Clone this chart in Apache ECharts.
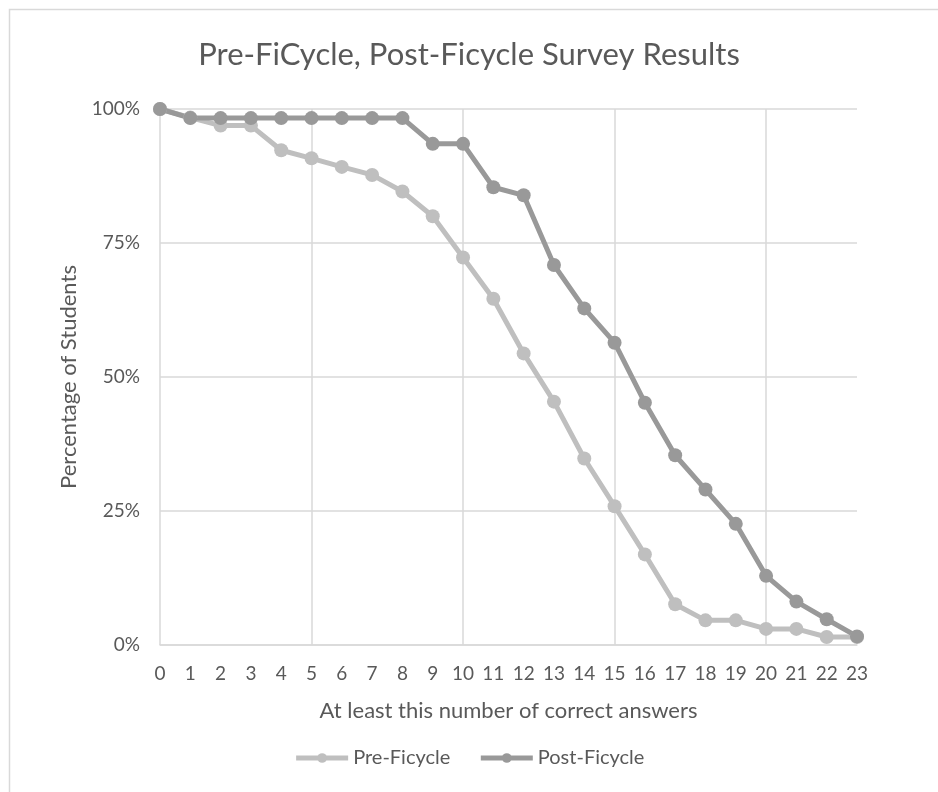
<!DOCTYPE html>
<html>
<head>
<meta charset="utf-8">
<script src="https://cdn.jsdelivr.net/npm/echarts@6/dist/echarts.min.js"></script>
<style>
  html, body { margin: 0; padding: 0; background: #fff; }
  #chart { width: 938px; height: 792px; }
</style>
</head>
<body>
<div id="chart"></div>
<script>
// Chart data
const answers = ['0','1','2','3','4','5','6','7','8','9','10','11','12','13','14','15','16','17','18','19','20','21','22','23'];
const preFicycle = [100, 98.4, 96.9, 96.9, 92.3, 90.8, 89.2, 87.7, 84.6, 80.0, 72.3, 64.6,
    54.4, 45.4, 34.8, 25.9, 16.9, 7.6, 4.6, 4.6, 3.0, 3.0, 1.5, 1.5];
const postFicycle = [100, 98.3, 98.3, 98.3, 98.3, 98.3, 98.3, 98.3, 98.3, 93.5, 93.5, 85.4,
    83.9, 70.9, 62.8, 56.4, 45.2, 35.4, 29.0, 22.6, 12.9, 8.1, 4.8, 1.6];
const yTicks = [0, 25, 50, 75, 100];

const textColor = '#595959';
const gridColor = '#d9d9d9';
const font = 'Lato';

const chart = echarts.init(document.getElementById('chart'));
chart.setOption({
    backgroundColor: '#fff',
    animation: false,
    textStyle: {fontFamily: font},
    graphic: [{
        type: 'rect',
        shape: {x: 9.5, y: 9.5, width: 1000, height: 1000},
        style: {fill: null, stroke: gridColor, lineWidth: 1.5}
    }],
    title: {
        text: 'Pre-FiCycle, Post-Ficycle Survey Results',
        left: 'center',
        top: 34,
        textStyle: {color: textColor, fontSize: 31, fontWeight: 'normal', fontFamily: font}
    },
    grid: {left: 160, right: 81, top: 109, bottom: 147},
    legend: {
        bottom: 19,
        left: 'center',
        itemWidth: 52,
        itemHeight: 12,
        itemGap: 28,
        lineStyle: {width: 5},
        textStyle: {color: textColor, fontSize: 20},
        data: ['Pre-Ficycle', 'Post-Ficycle']
    },
    xAxis: {
        type: 'category',
        data: answers,
        boundaryGap: false,
        name: 'At least this number of correct answers',
        nameLocation: 'middle',
        nameGap: 55,
        nameTextStyle: {color: textColor, fontSize: 22},
        axisLine: {lineStyle: {color: gridColor, width: 1.5}},
        axisTick: {show: false},
        axisLabel: {color: textColor, fontSize: 19, margin: 19, interval: 0},
        splitLine: {
            show: true,
            interval: (idx) => idx % 5 === 0,
            lineStyle: {color: gridColor, width: 1.5}
        }
    },
    yAxis: {
        type: 'value',
        min: yTicks[0],
        max: yTicks[yTicks.length - 1],
        interval: 25,
        name: 'Percentage of Students',
        nameLocation: 'middle',
        nameGap: 80,
        nameTextStyle: {color: textColor, fontSize: 22},
        axisLine: {show: false},
        axisTick: {show: false},
        axisLabel: {color: textColor, fontSize: 19, margin: 20, formatter: '{value}%'},
        splitLine: {lineStyle: {color: gridColor, width: 1.5}}
    },
    series: [
        {
            name: 'Pre-Ficycle',
            type: 'line',
            data: preFicycle,
            symbol: 'circle',
            symbolSize: 14,
            color: '#bfbfbf',
            lineStyle: {width: 5, color: '#bfbfbf'},
            itemStyle: {color: '#bfbfbf'}
        },
        {
            name: 'Post-Ficycle',
            type: 'line',
            data: postFicycle,
            symbol: 'circle',
            symbolSize: 14,
            color: '#999999',
            lineStyle: {width: 5, color: '#999999'},
            itemStyle: {color: '#999999'}
        }
    ]
});
</script>
</body>
</html>
